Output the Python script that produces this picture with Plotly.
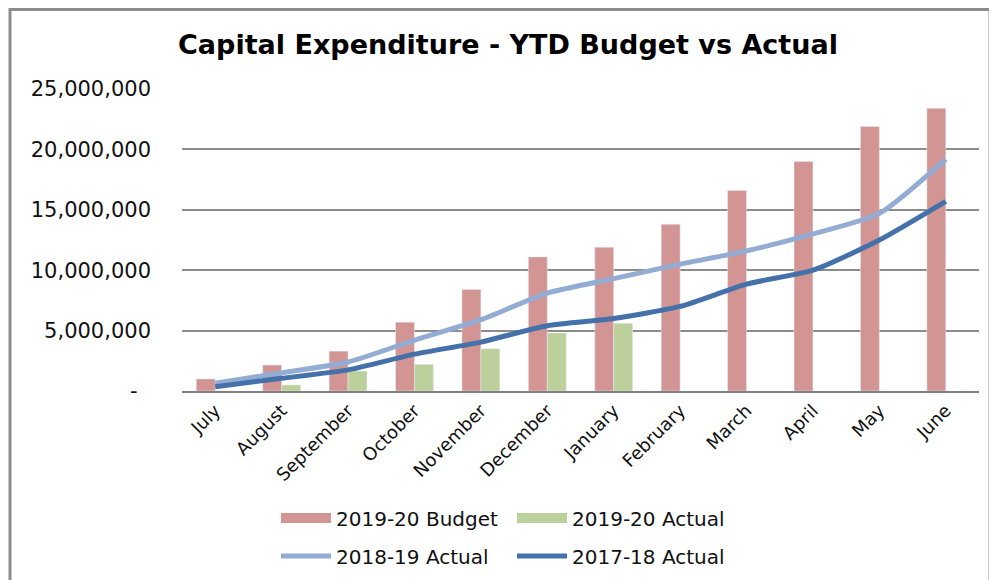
import plotly.graph_objects as go

# months of the financial year
months = ["July", "August", "September", "October", "November", "December",
          "January", "February", "March", "April", "May", "June"]

# YTD values
budget_1920 = [1.0e6, 2.15e6, 3.3e6, 5.7e6, 8.4e6, 11.1e6,
               11.9e6, 13.8e6, 16.6e6, 19.0e6, 21.9e6, 23.4e6]
actual_1920 = [0, 0.5e6, 1.65e6, 2.2e6, 3.5e6, 4.8e6, 5.6e6,
               None, None, None, None, None]
actual_1819 = [0.65e6, 1.5e6, 2.4e6, 4.2e6, 5.9e6, 8.1e6,
               9.3e6, 10.5e6, 11.6e6, 13.0e6, 14.7e6, 19.2e6]
actual_1718 = [0.35e6, 1.05e6, 1.75e6, 3.05e6, 4.05e6, 5.4e6,
               6.0e6, 7.0e6, 8.85e6, 10.0e6, 12.5e6, 15.7e6]

ytick_vals = [0, 5e6, 10e6, 15e6, 20e6, 25e6]
ytick_text = ["-\u00a0\u00a0", "5,000,000", "10,000,000", "15,000,000",
              "20,000,000", "25,000,000"]

# the page body adds an 8px margin, so work in screen pixels and shift back
OFF = 8
W, H = 997 - OFF, 580 - OFF
L, R, T, B = 182, 979, 89, 391  # plot area in screen pixels

def px_x(p):
    return (p - L) / (R - L)

def px_y(p):
    return (B - p) / (B - T)

FONT = "DejaVu Sans"
c_budget, c_actual = "#D39594", "#BBD09A"

fig = go.Figure()
fig.add_trace(go.Bar(x=months, y=budget_1920, name="2019-20 Budget",
                     marker_color=c_budget, showlegend=False))
fig.add_trace(go.Bar(x=months, y=actual_1920, name="2019-20 Actual",
                     marker_color=c_actual, showlegend=False))
fig.add_trace(go.Scatter(x=months, y=actual_1819, name="2018-19 Actual",
                         mode="lines", line=dict(color="#93ACD3", width=5, shape="spline", smoothing=0.6),
                         legend="legend2"))
fig.add_trace(go.Scatter(x=months, y=actual_1718, name="2017-18 Actual",
                         mode="lines", line=dict(color="#4471AA", width=5, shape="spline", smoothing=0.6),
                         legend="legend2"))

# wide swatches for the bar series in the legend
fig.add_trace(go.Scatter(x=[None], y=[None], name="2019-20 Budget", mode="lines",
                         line=dict(color=c_budget, width=17), legend="legend"))
fig.add_trace(go.Scatter(x=[None], y=[None], name="2019-20 Actual", mode="lines",
                         line=dict(color=c_actual, width=17), legend="legend"))

legend_common = dict(orientation="h", xanchor="left", yanchor="middle",
                     font=dict(family=FONT, size=20, color="#111"),
                     entrywidth=171, entrywidthmode="pixels",
                     bgcolor="rgba(0,0,0,0)", itemwidth=50, traceorder="normal")

fig.update_layout(
    width=W, height=H,
    margin=dict(l=L - OFF, r=W - (R - OFF), t=T - OFF, b=H - (B - OFF), autoexpand=False),
    paper_bgcolor="white", plot_bgcolor="white",
    title=dict(text="<b>Capital Expenditure - YTD Budget vs Actual</b>",
               x=(508 - OFF) / W, xanchor="center",
               y=1 - (45 - OFF) / H, yanchor="middle",
               font=dict(family=FONT, size=27, color="#000")),
    barmode="group", bargap=0.43, bargroupgap=0,
    showlegend=True,
    legend=dict(x=px_x(276), y=px_y(518), **legend_common),
    legend2=dict(x=px_x(276), y=px_y(556), **legend_common),
    xaxis=dict(tickangle=-45, tickfont=dict(family=FONT, size=18, color="#111"),
               showline=True, linecolor="#808080", linewidth=2,
               showgrid=False, ticks="", automargin=False),
    yaxis=dict(range=[0, 25e6], tickvals=ytick_vals, ticktext=ytick_text,
               tickfont=dict(family=FONT, size=21, color="#111"),
               showgrid=True, gridcolor="#8c8c8c", gridwidth=2,
               zeroline=False, ticks="", ticklabelstandoff=30, automargin=False),
    shapes=[dict(type="rect", xref="paper", yref="paper",
                 x0=px_x(10), x1=px_x(990), y0=px_y(600), y1=px_y(9.5),
                 line=dict(color="#8c8c8c", width=3), layer="below")],
)

fig.write_html("out.html")
